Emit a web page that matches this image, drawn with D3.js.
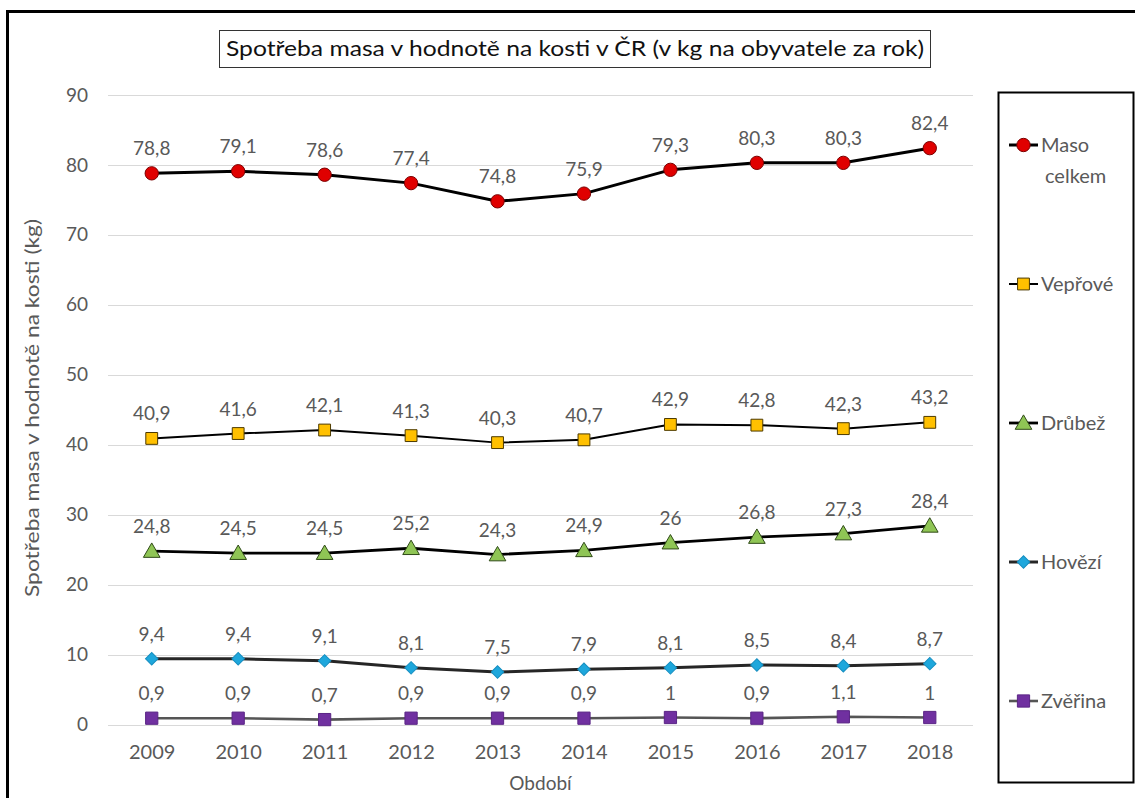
<!DOCTYPE html>
<html>
<head>
<meta charset="utf-8">
<script src="https://cdn.jsdelivr.net/npm/d3@7"></script>
<style>
  html, body { margin: 0; padding: 0; background: #fff; }
  svg { display: block; font-family: Lato, "Open Sans", sans-serif; }
</style>
</head>
<body>
<svg id="chart" width="1135" height="798"></svg>
<script>
// Spotřeba masa v ČR 2009–2018 (kg na obyvatele za rok)
const years = ["2009", "2010", "2011", "2012", "2013", "2014", "2015", "2016", "2017", "2018"];
const masoCelkem = [78.8, 79.1, 78.6, 77.4, 74.8, 75.9, 79.3, 80.3, 80.3, 82.4];
const veprove    = [40.9, 41.6, 42.1, 41.3, 40.3, 40.7, 42.9, 42.8, 42.3, 43.2];
const drubez     = [24.8, 24.5, 24.5, 25.2, 24.3, 24.9, 26, 26.8, 27.3, 28.4];
const hovezi     = [9.4, 9.4, 9.1, 8.1, 7.5, 7.9, 8.1, 8.5, 8.4, 8.7];
const zverina    = [0.9, 0.9, 0.7, 0.9, 0.9, 0.9, 1, 0.9, 1.1, 1];
const yTicks     = [0, 10, 20, 30, 40, 50, 60, 70, 80, 90];
const seriesNames = ["Maso celkem", "Vepřové", "Drůbež", "Hovězí", "Zvěřina"];

// marker shapes: rot = rotation in degrees, dy = small vertical nudge
const series = [
  { name: seriesNames[0], values: masoCelkem, line: "#000", lw: 3,   symbol: d3.symbolCircle,   size: 140, rot: 0,  dy: 0,   fill: "#e00000", stroke: "#7a0000" },
  { name: seriesNames[1], values: veprove,    line: "#000", lw: 2,   symbol: d3.symbolSquare,   size: 140, rot: 0,  dy: 0,   fill: "#ffc000", stroke: "#4d3a00" },
  { name: seriesNames[2], values: drubez,     line: "#000", lw: 2.8, symbol: d3.symbolTriangle, size: 120, rot: 0,  dy: 1.5, fill: "#8fc555", stroke: "#2f4a17" },
  { name: seriesNames[3], values: hovezi,     line: "#262626", lw: 3, symbol: d3.symbolSquare, size: 78,  rot: 45, dy: 0,   fill: "#1ea7dc", stroke: "#168ec0" },
  { name: seriesNames[4], values: zverina,    line: "#555", lw: 2.6, symbol: d3.symbolSquare,   size: 150, rot: 0,  dy: 0,   fill: "#7030a0", stroke: "#5a2585" }
];

const svg = d3.select("#chart");
const textGray = "#595959";

// outer frame
svg.append("rect").attr("x", 7.5).attr("y", 11.5).attr("width", 1140).attr("height", 800)
  .attr("fill", "none").attr("stroke", "#000").attr("stroke-width", 3);

// title
svg.append("rect").attr("x", 219.5).attr("y", 30.5).attr("width", 711).attr("height", 37)
  .attr("fill", "#fff").attr("stroke", "#333").attr("stroke-width", 1);
svg.append("text").attr("x", 575).attr("y", 56).attr("text-anchor", "middle")
  .attr("font-size", 22).attr("fill", "#111")
  .attr("textLength", 698).attr("lengthAdjust", "spacingAndGlyphs")
  .text("Spotřeba masa v hodnotě na kosti v ČR (v kg na obyvatele za rok)");

// scales
const x = d3.scalePoint().domain(years).range([108.5, 973]).padding(0.5);
const y = d3.scaleLinear().domain([0, 90]).range([724.5, 95]);

// gridlines
svg.append("g").selectAll("line").data(yTicks).join("line")
  .attr("x1", 108).attr("x2", 973)
  .attr("y1", d => Math.round(y(d)) + 0.5).attr("y2", d => Math.round(y(d)) + 0.5)
  .attr("stroke", "#d9d9d9").attr("stroke-width", 1);

// y axis labels
const yAxis = d3.axisLeft(y).tickValues(yTicks).tickSize(0).tickPadding(0);
const gy = svg.append("g").attr("transform", "translate(88,0)").call(yAxis);
gy.select(".domain").remove();
gy.selectAll("text").attr("font-size", 19).attr("fill", textGray)
  .attr("font-family", "Lato, sans-serif");

// x axis labels
const xAxis = d3.axisBottom(x).tickSize(0).tickPadding(0);
const gx = svg.append("g").attr("transform", "translate(0,745)").call(xAxis);
gx.select(".domain").remove();
gx.selectAll("text").attr("font-size", 20).attr("fill", textGray)
  .attr("font-family", "Lato, sans-serif");

// axis titles
svg.append("text").attr("x", 540.5).attr("y", 790).attr("text-anchor", "middle")
  .attr("font-size", 19).attr("fill", textGray).text("Období");
svg.append("text").attr("transform", "translate(39,408) rotate(-90)")
  .attr("text-anchor", "middle").attr("font-size", 20).attr("fill", textGray)
  .attr("textLength", 378).attr("lengthAdjust", "spacingAndGlyphs")
  .text("Spotřeba masa v hodnotě na kosti (kg)");

// lines, markers, value labels
const lineGen = d3.line().x((d, i) => x(years[i])).y(d => y(d));
const fmt = v => String(v).replace(".", ",");

series.forEach(s => {
  const g = svg.append("g");
  g.append("path").datum(s.values).attr("d", lineGen)
    .attr("fill", "none").attr("stroke", s.line).attr("stroke-width", s.lw)
    .attr("stroke-linejoin", "round");
  const sym = d3.symbol().type(s.symbol).size(s.size);
  g.selectAll("path.m").data(s.values).join("path").attr("class", "m")
    .attr("d", sym)
    .attr("transform", (d, i) => `translate(${x(years[i])},${y(d) + s.dy}) rotate(${s.rot})`)
    .attr("fill", s.fill).attr("stroke", s.stroke).attr("stroke-width", 1);
  g.selectAll("text").data(s.values).join("text")
    .attr("x", (d, i) => x(years[i])).attr("y", d => y(d) - 18)
    .attr("text-anchor", "middle").attr("font-size", 19).attr("fill", textGray)
    .text(fmt);
});

// legend
svg.append("rect").attr("x", 998.5).attr("y", 92.5).attr("width", 135).attr("height", 690)
  .attr("fill", "#fff").attr("stroke", "#000").attr("stroke-width", 2);
const legendY = d3.scalePoint().domain(seriesNames).range([145, 701]);
series.forEach(s => {
  const ly = legendY(s.name);
  const g = svg.append("g");
  g.append("line").attr("x1", 1009).attr("x2", 1038).attr("y1", ly).attr("y2", ly)
    .attr("stroke", s.line).attr("stroke-width", s.lw);
  g.append("path").attr("d", d3.symbol().type(s.symbol).size(s.size)())
    .attr("transform", `translate(1023.5,${ly + s.dy}) rotate(${s.rot})`)
    .attr("fill", s.fill).attr("stroke", s.stroke).attr("stroke-width", 1);
  const words = s.name === "Maso celkem" ? ["Maso", "celkem"] : [s.name];
  const t = g.append("text").attr("font-size", 20).attr("fill", textGray);
  words.forEach((w, i) => {
    t.append("tspan").attr("x", i === 0 ? 1041 : 1045).attr("y", ly + 7 + i * 31).text(w);
  });
});
</script>
</body>
</html>
